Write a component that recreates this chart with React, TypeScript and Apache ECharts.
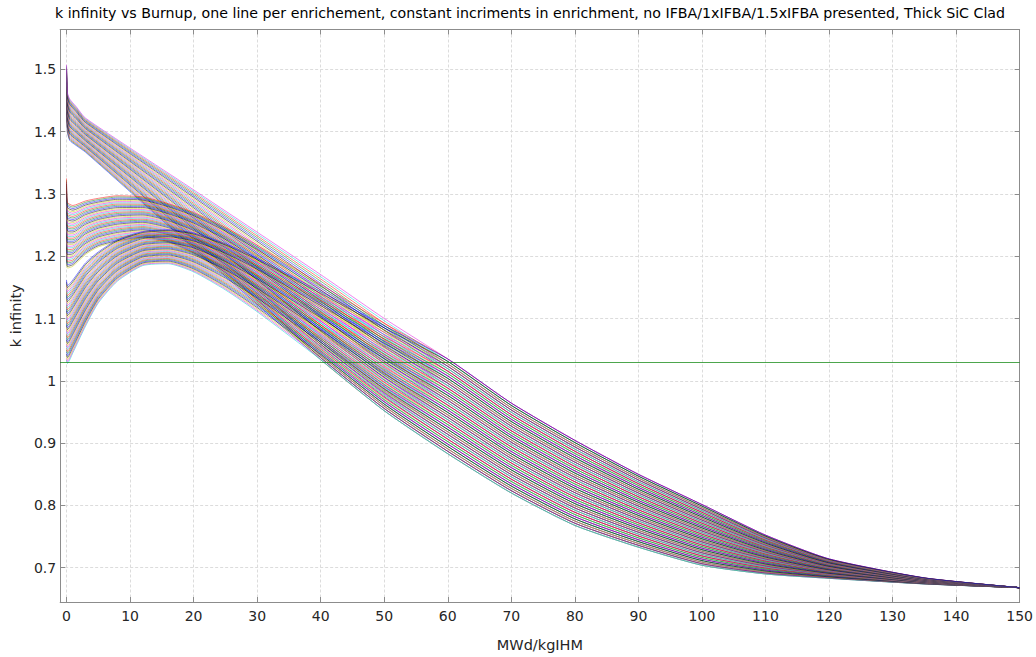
import React, { useEffect, useRef } from "react";
import * as echarts from "echarts";

// ---- data ----
// Rows = burnup points, columns = the 40 enrichment steps (lowest -> highest).
const BURNUP_NO_IFBA = [0, 0.15, 0.5, 1.5, 3, 20, 40, 50];
const K_NO_IFBA = [
  [1.4450,1.4466,1.4482,1.4498,1.4514,1.4530,1.4546,1.4562,1.4578,1.4594,1.4610,1.4626,1.4642,1.4658,1.4674,1.4690,1.4706,1.4722,1.4738,1.4754,1.4770,1.4786,1.4802,1.4818,1.4834,1.4850,1.4866,1.4882,1.4898,1.4914,1.4930,1.4946,1.4962,1.4978,1.4994,1.5010,1.5026,1.5042,1.5058,1.5074],
  [1.4000,1.4016,1.4032,1.4048,1.4064,1.4080,1.4096,1.4112,1.4128,1.4144,1.4160,1.4176,1.4192,1.4208,1.4224,1.4240,1.4256,1.4272,1.4288,1.4304,1.4320,1.4336,1.4352,1.4368,1.4384,1.4400,1.4416,1.4432,1.4448,1.4464,1.4480,1.4496,1.4512,1.4528,1.4544,1.4560,1.4576,1.4592,1.4608,1.4624],
  [1.3860,1.3877,1.3894,1.3911,1.3928,1.3945,1.3962,1.3979,1.3996,1.4013,1.4030,1.4047,1.4064,1.4081,1.4098,1.4115,1.4132,1.4149,1.4166,1.4183,1.4200,1.4217,1.4234,1.4251,1.4268,1.4285,1.4302,1.4319,1.4336,1.4353,1.4370,1.4387,1.4404,1.4421,1.4438,1.4455,1.4472,1.4489,1.4506,1.4523],
  [1.3780,1.3796,1.3812,1.3828,1.3844,1.3860,1.3876,1.3892,1.3908,1.3924,1.3940,1.3956,1.3972,1.3988,1.4004,1.4020,1.4036,1.4052,1.4068,1.4084,1.4100,1.4116,1.4132,1.4148,1.4164,1.4180,1.4196,1.4212,1.4228,1.4244,1.4260,1.4276,1.4292,1.4308,1.4324,1.4340,1.4356,1.4372,1.4388,1.4404],
  [1.3670,1.3684,1.3698,1.3712,1.3726,1.3740,1.3754,1.3768,1.3782,1.3796,1.3810,1.3824,1.3838,1.3852,1.3866,1.3880,1.3894,1.3908,1.3922,1.3936,1.3950,1.3964,1.3978,1.3992,1.4006,1.4020,1.4034,1.4048,1.4062,1.4076,1.4090,1.4104,1.4118,1.4132,1.4146,1.4160,1.4174,1.4188,1.4202,1.4216],
  [1.2130,1.2154,1.2178,1.2202,1.2226,1.2250,1.2274,1.2298,1.2322,1.2346,1.2370,1.2394,1.2418,1.2442,1.2466,1.2490,1.2514,1.2538,1.2562,1.2586,1.2610,1.2634,1.2658,1.2682,1.2706,1.2730,1.2754,1.2778,1.2802,1.2826,1.2850,1.2874,1.2898,1.2922,1.2946,1.2970,1.2994,1.3018,1.3042,1.3066],
  [1.0340,1.0375,1.0410,1.0445,1.0480,1.0515,1.0550,1.0585,1.0620,1.0655,1.0690,1.0725,1.0760,1.0795,1.0830,1.0865,1.0900,1.0935,1.0970,1.1005,1.1040,1.1075,1.1110,1.1145,1.1180,1.1215,1.1250,1.1285,1.1320,1.1355,1.1390,1.1425,1.1460,1.1495,1.1530,1.1565,1.1600,1.1635,1.1670,1.1705],
  [0.9520,0.9558,0.9596,0.9634,0.9672,0.9710,0.9748,0.9786,0.9824,0.9862,0.9900,0.9938,0.9976,1.0014,1.0052,1.0090,1.0128,1.0166,1.0204,1.0242,1.0280,1.0318,1.0356,1.0394,1.0432,1.0470,1.0508,1.0546,1.0584,1.0622,1.0660,1.0698,1.0736,1.0774,1.0812,1.0850,1.0888,1.0926,1.0964,1.1002],
];

const BURNUP_IFBA = [0, 0.15, 1, 3, 5, 8, 12, 16, 20, 25, 30, 40, 50];
const K_1X_IFBA = [
  [1.2040,1.2071,1.2102,1.2133,1.2164,1.2195,1.2226,1.2257,1.2288,1.2319,1.2350,1.2381,1.2412,1.2443,1.2474,1.2505,1.2536,1.2567,1.2598,1.2629,1.2660,1.2691,1.2722,1.2753,1.2784,1.2815,1.2846,1.2877,1.2908,1.2939,1.2970,1.3001,1.3032,1.3063,1.3094,1.3125,1.3156,1.3187,1.3218,1.3249],
  [1.1810,1.1837,1.1864,1.1891,1.1918,1.1945,1.1972,1.1999,1.2026,1.2053,1.2080,1.2107,1.2134,1.2161,1.2188,1.2215,1.2242,1.2269,1.2296,1.2323,1.2350,1.2377,1.2404,1.2431,1.2458,1.2485,1.2512,1.2539,1.2566,1.2593,1.2620,1.2647,1.2674,1.2701,1.2728,1.2755,1.2782,1.2809,1.2836,1.2863],
  [1.1840,1.1865,1.1890,1.1915,1.1940,1.1965,1.1990,1.2015,1.2040,1.2065,1.2090,1.2115,1.2140,1.2165,1.2190,1.2215,1.2240,1.2265,1.2290,1.2315,1.2340,1.2365,1.2390,1.2415,1.2440,1.2465,1.2490,1.2515,1.2540,1.2565,1.2590,1.2615,1.2640,1.2665,1.2690,1.2715,1.2740,1.2765,1.2790,1.2815],
  [1.2030,1.2052,1.2074,1.2096,1.2118,1.2140,1.2162,1.2184,1.2206,1.2228,1.2250,1.2272,1.2294,1.2316,1.2338,1.2360,1.2382,1.2404,1.2426,1.2448,1.2470,1.2492,1.2514,1.2536,1.2558,1.2580,1.2602,1.2624,1.2646,1.2668,1.2690,1.2712,1.2734,1.2756,1.2778,1.2800,1.2822,1.2844,1.2866,1.2888],
  [1.2150,1.2170,1.2190,1.2210,1.2230,1.2250,1.2270,1.2290,1.2310,1.2330,1.2350,1.2370,1.2390,1.2410,1.2430,1.2450,1.2470,1.2490,1.2510,1.2530,1.2550,1.2570,1.2590,1.2610,1.2630,1.2650,1.2670,1.2690,1.2710,1.2730,1.2750,1.2770,1.2790,1.2810,1.2830,1.2850,1.2870,1.2890,1.2910,1.2930],
  [1.2230,1.2249,1.2268,1.2287,1.2306,1.2325,1.2344,1.2363,1.2382,1.2401,1.2420,1.2439,1.2458,1.2477,1.2496,1.2515,1.2534,1.2553,1.2572,1.2591,1.2610,1.2629,1.2648,1.2667,1.2686,1.2705,1.2724,1.2743,1.2762,1.2781,1.2800,1.2819,1.2838,1.2857,1.2876,1.2895,1.2914,1.2933,1.2952,1.2971],
  [1.2290,1.2307,1.2324,1.2341,1.2358,1.2375,1.2392,1.2409,1.2426,1.2443,1.2460,1.2477,1.2494,1.2511,1.2528,1.2545,1.2562,1.2579,1.2596,1.2613,1.2630,1.2647,1.2664,1.2681,1.2698,1.2715,1.2732,1.2749,1.2766,1.2783,1.2800,1.2817,1.2834,1.2851,1.2868,1.2885,1.2902,1.2919,1.2936,1.2953],
  [1.2220,1.2236,1.2252,1.2268,1.2284,1.2300,1.2316,1.2332,1.2348,1.2364,1.2380,1.2396,1.2412,1.2428,1.2444,1.2460,1.2476,1.2492,1.2508,1.2524,1.2540,1.2556,1.2572,1.2588,1.2604,1.2620,1.2636,1.2652,1.2668,1.2684,1.2700,1.2716,1.2732,1.2748,1.2764,1.2780,1.2796,1.2812,1.2828,1.2844],
  [1.2040,1.2057,1.2074,1.2091,1.2108,1.2125,1.2142,1.2159,1.2176,1.2193,1.2210,1.2227,1.2244,1.2261,1.2278,1.2295,1.2312,1.2329,1.2346,1.2363,1.2380,1.2397,1.2414,1.2431,1.2448,1.2465,1.2482,1.2499,1.2516,1.2533,1.2550,1.2567,1.2584,1.2601,1.2618,1.2635,1.2652,1.2669,1.2686,1.2703],
  [1.1720,1.1739,1.1758,1.1777,1.1796,1.1815,1.1834,1.1853,1.1872,1.1891,1.1910,1.1929,1.1948,1.1967,1.1986,1.2005,1.2024,1.2043,1.2062,1.2081,1.2100,1.2119,1.2138,1.2157,1.2176,1.2195,1.2214,1.2233,1.2252,1.2271,1.2290,1.2309,1.2328,1.2347,1.2366,1.2385,1.2404,1.2423,1.2442,1.2461],
  [1.1280,1.1303,1.1326,1.1349,1.1372,1.1395,1.1418,1.1441,1.1464,1.1487,1.1510,1.1533,1.1556,1.1579,1.1602,1.1625,1.1648,1.1671,1.1694,1.1717,1.1740,1.1763,1.1786,1.1809,1.1832,1.1855,1.1878,1.1901,1.1924,1.1947,1.1970,1.1993,1.2016,1.2039,1.2062,1.2085,1.2108,1.2131,1.2154,1.2177],
  [1.0340,1.0371,1.0402,1.0433,1.0464,1.0495,1.0526,1.0557,1.0588,1.0619,1.0650,1.0681,1.0712,1.0743,1.0774,1.0805,1.0836,1.0867,1.0898,1.0929,1.0960,1.0991,1.1022,1.1053,1.1084,1.1115,1.1146,1.1177,1.1208,1.1239,1.1270,1.1301,1.1332,1.1363,1.1394,1.1425,1.1456,1.1487,1.1518,1.1549],
  [0.9520,0.9556,0.9592,0.9628,0.9664,0.9700,0.9736,0.9772,0.9808,0.9844,0.9880,0.9916,0.9952,0.9988,1.0024,1.0060,1.0096,1.0132,1.0168,1.0204,1.0240,1.0276,1.0312,1.0348,1.0384,1.0420,1.0456,1.0492,1.0528,1.0564,1.0600,1.0636,1.0672,1.0708,1.0744,1.0780,1.0816,1.0852,1.0888,1.0924],
];

const K_15X_IFBA = [
  [1.0330,1.0363,1.0396,1.0429,1.0462,1.0495,1.0528,1.0561,1.0594,1.0627,1.0660,1.0693,1.0726,1.0759,1.0792,1.0825,1.0858,1.0891,1.0924,1.0957,1.0990,1.1023,1.1056,1.1089,1.1122,1.1155,1.1188,1.1221,1.1254,1.1287,1.1320,1.1353,1.1386,1.1419,1.1452,1.1485,1.1518,1.1551,1.1584,1.1617],
  [1.0280,1.0312,1.0344,1.0376,1.0408,1.0440,1.0472,1.0504,1.0536,1.0568,1.0600,1.0632,1.0664,1.0696,1.0728,1.0760,1.0792,1.0824,1.0856,1.0888,1.0920,1.0952,1.0984,1.1016,1.1048,1.1080,1.1112,1.1144,1.1176,1.1208,1.1240,1.1272,1.1304,1.1336,1.1368,1.1400,1.1432,1.1464,1.1496,1.1528],
  [1.0450,1.0480,1.0510,1.0540,1.0570,1.0600,1.0630,1.0660,1.0690,1.0720,1.0750,1.0780,1.0810,1.0840,1.0870,1.0900,1.0930,1.0960,1.0990,1.1020,1.1050,1.1080,1.1110,1.1140,1.1170,1.1200,1.1230,1.1260,1.1290,1.1320,1.1350,1.1380,1.1410,1.1440,1.1470,1.1500,1.1530,1.1560,1.1590,1.1620],
  [1.0880,1.0906,1.0932,1.0958,1.0984,1.1010,1.1036,1.1062,1.1088,1.1114,1.1140,1.1166,1.1192,1.1218,1.1244,1.1270,1.1296,1.1322,1.1348,1.1374,1.1400,1.1426,1.1452,1.1478,1.1504,1.1530,1.1556,1.1582,1.1608,1.1634,1.1660,1.1686,1.1712,1.1738,1.1764,1.1790,1.1816,1.1842,1.1868,1.1894],
  [1.1250,1.1271,1.1292,1.1313,1.1334,1.1355,1.1376,1.1397,1.1418,1.1439,1.1460,1.1481,1.1502,1.1523,1.1544,1.1565,1.1586,1.1607,1.1628,1.1649,1.1670,1.1691,1.1712,1.1733,1.1754,1.1775,1.1796,1.1817,1.1838,1.1859,1.1880,1.1901,1.1922,1.1943,1.1964,1.1985,1.2006,1.2027,1.2048,1.2069],
  [1.1600,1.1617,1.1634,1.1651,1.1668,1.1685,1.1702,1.1719,1.1736,1.1753,1.1770,1.1787,1.1804,1.1821,1.1838,1.1855,1.1872,1.1889,1.1906,1.1923,1.1940,1.1957,1.1974,1.1991,1.2008,1.2025,1.2042,1.2059,1.2076,1.2093,1.2110,1.2127,1.2144,1.2161,1.2178,1.2195,1.2212,1.2229,1.2246,1.2263],
  [1.1850,1.1864,1.1878,1.1892,1.1906,1.1920,1.1934,1.1948,1.1962,1.1976,1.1990,1.2004,1.2018,1.2032,1.2046,1.2060,1.2074,1.2088,1.2102,1.2116,1.2130,1.2144,1.2158,1.2172,1.2186,1.2200,1.2214,1.2228,1.2242,1.2256,1.2270,1.2284,1.2298,1.2312,1.2326,1.2340,1.2354,1.2368,1.2382,1.2396],
  [1.1880,1.1894,1.1908,1.1922,1.1936,1.1950,1.1964,1.1978,1.1992,1.2006,1.2020,1.2034,1.2048,1.2062,1.2076,1.2090,1.2104,1.2118,1.2132,1.2146,1.2160,1.2174,1.2188,1.2202,1.2216,1.2230,1.2244,1.2258,1.2272,1.2286,1.2300,1.2314,1.2328,1.2342,1.2356,1.2370,1.2384,1.2398,1.2412,1.2426],
  [1.1750,1.1766,1.1782,1.1798,1.1814,1.1830,1.1846,1.1862,1.1878,1.1894,1.1910,1.1926,1.1942,1.1958,1.1974,1.1990,1.2006,1.2022,1.2038,1.2054,1.2070,1.2086,1.2102,1.2118,1.2134,1.2150,1.2166,1.2182,1.2198,1.2214,1.2230,1.2246,1.2262,1.2278,1.2294,1.2310,1.2326,1.2342,1.2358,1.2374],
  [1.1460,1.1479,1.1498,1.1517,1.1536,1.1555,1.1574,1.1593,1.1612,1.1631,1.1650,1.1669,1.1688,1.1707,1.1726,1.1745,1.1764,1.1783,1.1802,1.1821,1.1840,1.1859,1.1878,1.1897,1.1916,1.1935,1.1954,1.1973,1.1992,1.2011,1.2030,1.2049,1.2068,1.2087,1.2106,1.2125,1.2144,1.2163,1.2182,1.2201],
  [1.1110,1.1132,1.1154,1.1176,1.1198,1.1220,1.1242,1.1264,1.1286,1.1308,1.1330,1.1352,1.1374,1.1396,1.1418,1.1440,1.1462,1.1484,1.1506,1.1528,1.1550,1.1572,1.1594,1.1616,1.1638,1.1660,1.1682,1.1704,1.1726,1.1748,1.1770,1.1792,1.1814,1.1836,1.1858,1.1880,1.1902,1.1924,1.1946,1.1968],
  [1.0340,1.0368,1.0396,1.0424,1.0452,1.0480,1.0508,1.0536,1.0564,1.0592,1.0620,1.0648,1.0676,1.0704,1.0732,1.0760,1.0788,1.0816,1.0844,1.0872,1.0900,1.0928,1.0956,1.0984,1.1012,1.1040,1.1068,1.1096,1.1124,1.1152,1.1180,1.1208,1.1236,1.1264,1.1292,1.1320,1.1348,1.1376,1.1404,1.1432],
  [0.9520,0.9555,0.9590,0.9625,0.9660,0.9695,0.9730,0.9765,0.9800,0.9835,0.9870,0.9905,0.9940,0.9975,1.0010,1.0045,1.0080,1.0115,1.0150,1.0185,1.0220,1.0255,1.0290,1.0325,1.0360,1.0395,1.0430,1.0465,1.0500,1.0535,1.0570,1.0605,1.0640,1.0675,1.0710,1.0745,1.0780,1.0815,1.0850,1.0885],
];

// After the IFBA burns out the three families lie on top of each other.
const BURNUP_TAIL = [60, 70, 80, 90, 100, 110, 120, 135, 150];
const K_TAIL = [
  [0.8830,0.8869,0.8908,0.8947,0.8986,0.9025,0.9064,0.9103,0.9142,0.9181,0.9220,0.9259,0.9298,0.9337,0.9376,0.9415,0.9454,0.9493,0.9532,0.9571,0.9610,0.9649,0.9688,0.9727,0.9766,0.9805,0.9844,0.9883,0.9922,0.9961,1.0000,1.0039,1.0078,1.0117,1.0156,1.0195,1.0234,1.0273,1.0312,1.0351],
  [0.8200,0.8237,0.8274,0.8311,0.8348,0.8385,0.8422,0.8459,0.8496,0.8533,0.8570,0.8607,0.8644,0.8681,0.8718,0.8755,0.8792,0.8829,0.8866,0.8903,0.8940,0.8977,0.9014,0.9051,0.9088,0.9125,0.9162,0.9199,0.9236,0.9273,0.9310,0.9347,0.9384,0.9421,0.9458,0.9495,0.9532,0.9569,0.9606,0.9643],
  [0.7680,0.7715,0.7750,0.7785,0.7820,0.7855,0.7890,0.7925,0.7960,0.7995,0.8030,0.8065,0.8100,0.8135,0.8170,0.8205,0.8240,0.8275,0.8310,0.8345,0.8380,0.8415,0.8450,0.8485,0.8520,0.8555,0.8590,0.8625,0.8660,0.8695,0.8730,0.8765,0.8800,0.8835,0.8870,0.8905,0.8940,0.8975,0.9010,0.9045],
  [0.7330,0.7360,0.7390,0.7420,0.7450,0.7480,0.7510,0.7540,0.7570,0.7600,0.7630,0.7660,0.7690,0.7720,0.7750,0.7780,0.7810,0.7840,0.7870,0.7900,0.7930,0.7960,0.7990,0.8020,0.8050,0.8080,0.8110,0.8140,0.8170,0.8200,0.8230,0.8260,0.8290,0.8320,0.8350,0.8380,0.8410,0.8440,0.8470,0.8500],
  [0.7040,0.7065,0.7090,0.7115,0.7140,0.7165,0.7190,0.7215,0.7240,0.7265,0.7290,0.7315,0.7340,0.7365,0.7390,0.7415,0.7440,0.7465,0.7490,0.7515,0.7540,0.7565,0.7590,0.7615,0.7640,0.7665,0.7690,0.7715,0.7740,0.7765,0.7790,0.7815,0.7840,0.7865,0.7890,0.7915,0.7940,0.7965,0.7990,0.8015],
  [0.6900,0.6916,0.6932,0.6948,0.6964,0.6980,0.6996,0.7012,0.7028,0.7044,0.7060,0.7076,0.7092,0.7108,0.7124,0.7140,0.7156,0.7172,0.7188,0.7204,0.7220,0.7236,0.7252,0.7268,0.7284,0.7300,0.7316,0.7332,0.7348,0.7364,0.7380,0.7396,0.7412,0.7428,0.7444,0.7460,0.7476,0.7492,0.7508,0.7524],
  [0.6830,0.6838,0.6846,0.6854,0.6862,0.6870,0.6878,0.6886,0.6894,0.6902,0.6910,0.6918,0.6926,0.6934,0.6942,0.6950,0.6958,0.6966,0.6974,0.6982,0.6990,0.6998,0.7006,0.7014,0.7022,0.7030,0.7038,0.7046,0.7054,0.7062,0.7070,0.7078,0.7086,0.7094,0.7102,0.7110,0.7118,0.7126,0.7134,0.7142],
  [0.67400,0.67425,0.67450,0.67475,0.67500,0.67525,0.67550,0.67575,0.67600,0.67625,0.67650,0.67675,0.67700,0.67725,0.67750,0.67775,0.67800,0.67825,0.67850,0.67875,0.67900,0.67925,0.67950,0.67975,0.68000,0.68025,0.68050,0.68075,0.68100,0.68125,0.68150,0.68175,0.68200,0.68225,0.68250,0.68275,0.68300,0.68325,0.68350,0.68375],
  [0.668,0.668,0.668,0.668,0.668,0.668,0.668,0.668,0.668,0.668,0.668,0.668,0.668,0.668,0.668,0.668,0.668,0.668,0.668,0.668,0.668,0.668,0.668,0.668,0.668,0.668,0.668,0.668,0.668,0.668,0.668,0.668,0.668,0.668,0.668,0.668,0.668,0.668,0.668,0.668],
];

const CRITICAL_K = 1.035;
const X_TICKS = [0, 10, 20, 30, 40, 50, 60, 70, 80, 90, 100, 110, 120, 130, 140, 150];
const Y_TICKS = [0.7, 0.8, 0.9, 1, 1.1, 1.2, 1.3, 1.4, 1.5];
const X_RANGE = [-1, 150];
const Y_RANGE = [0.645, 1.564];

const TITLE =
  "k infinity vs Burnup, one line per enrichement, constant incriments in enrichment, no IFBA/1xIFBA/1.5xIFBA presented, Thick SiC Clad";
const X_NAME = "MWd/kgIHM";
const Y_NAME = "k infinity";

// MATLAB 'bgrcmyk'-style colour cycle
const COLORS = ["#0000ff", "#008000", "#ff0000", "#00cccc", "#e000e0", "#cccc00", "#000000"];

const FAMILIES = [
  { burnup: [...BURNUP_NO_IFBA, ...BURNUP_TAIL], k: [...K_NO_IFBA, ...K_TAIL] },
  { burnup: [...BURNUP_IFBA, ...BURNUP_TAIL], k: [...K_1X_IFBA, ...K_TAIL] },
  { burnup: [...BURNUP_IFBA, ...BURNUP_TAIL], k: [...K_15X_IFBA, ...K_TAIL] },
];

const FONT = "DejaVu Sans, Verdana, sans-serif";
const AXIS_COLOR = "#8c8c8c";
const TEXT_COLOR = "#262626";

export default function App() {
  const ref = useRef<HTMLDivElement>(null);

  useEffect(() => {
    if (!ref.current) return;
    const chart = echarts.init(ref.current, undefined, { renderer: "svg" });

    const series: any[] = [];
    let idx = 0;
    FAMILIES.forEach((fam) => {
      const nLines = fam.k[0].length;
      for (let c = 0; c < nLines; c++) {
        series.push({
          type: "line",
          data: fam.burnup.map((b, r) => [b, fam.k[r][c]]),
          showSymbol: false,
          symbol: "none",
          smooth: 0.2,
          silent: true,
          lineStyle: { width: 0.5, color: COLORS[idx % COLORS.length] },
          emphasis: { disabled: true },
          z: 3,
        });
        idx++;
      }
    });
    series.push({
      type: "line",
      data: [],
      silent: true,
      z: 4,
      markLine: {
        silent: true,
        symbol: ["none", "none"],
        label: { show: false },
        lineStyle: { color: "#008000", width: 0.7, type: "solid" },
        emphasis: { disabled: true },
        data: [{ yAxis: CRITICAL_K }],
      },
    });

    const tickStyle = { color: AXIS_COLOR, width: 1 };
    chart.setOption({
      animation: false,
      backgroundColor: "#ffffff",
      textStyle: { fontFamily: FONT },
      grid: { left: 53, right: 16, top: 29.5, bottom: 44, containLabel: false },
      graphic: [
        {
          type: "text",
          x: 530,
          y: 13,
          silent: true,
          style: {
            text: TITLE,
            fill: "#000000",
            font: `14.2px ${FONT}`,
            textAlign: "center",
            textVerticalAlign: "middle",
          },
        },
      ],
      xAxis: [
        {
          type: "value",
          min: X_RANGE[0],
          max: X_RANGE[1],
          position: "bottom",
          axisLine: { show: true, onZero: false, lineStyle: { color: AXIS_COLOR } },
          axisTick: { show: true, inside: true, length: 5, customValues: X_TICKS, lineStyle: tickStyle },
          axisLabel: {
            customValues: X_TICKS,
            color: TEXT_COLOR,
            fontSize: 14,
            fontFamily: FONT,
            margin: 7,
          },
          splitLine: { show: true, lineStyle: { color: "#dcdcdc", type: [3, 2], width: 1 } },
          name: X_NAME,
          nameLocation: "middle",
          nameGap: 35,
          nameTextStyle: { color: TEXT_COLOR, fontSize: 14.5, fontFamily: FONT },
        },
        {
          type: "value",
          min: X_RANGE[0],
          max: X_RANGE[1],
          position: "top",
          axisLine: { show: true, onZero: false, lineStyle: { color: AXIS_COLOR } },
          axisTick: { show: true, inside: true, length: 5, customValues: X_TICKS, lineStyle: tickStyle },
          axisLabel: { show: false },
          splitLine: { show: false },
        },
      ],
      yAxis: [
        {
          type: "value",
          min: Y_RANGE[0],
          max: Y_RANGE[1],
          position: "left",
          axisLine: { show: true, onZero: false, lineStyle: { color: AXIS_COLOR } },
          axisTick: { show: true, inside: true, length: 5, customValues: Y_TICKS, lineStyle: tickStyle },
          axisLabel: {
            customValues: Y_TICKS,
            color: TEXT_COLOR,
            fontSize: 14,
            fontFamily: FONT,
            margin: 4,
          },
          splitLine: { show: true, lineStyle: { color: "#dcdcdc", type: [3, 2], width: 1 } },
          name: Y_NAME,
          nameLocation: "middle",
          nameGap: 37,
          nameTextStyle: { color: TEXT_COLOR, fontSize: 14.5, fontFamily: FONT },
        },
        {
          type: "value",
          min: Y_RANGE[0],
          max: Y_RANGE[1],
          position: "right",
          axisLine: { show: true, onZero: false, lineStyle: { color: AXIS_COLOR } },
          axisTick: { show: true, inside: true, length: 5, customValues: Y_TICKS, lineStyle: tickStyle },
          axisLabel: { show: false },
          splitLine: { show: false },
        },
      ],
      series,
    });

    return () => chart.dispose();
  }, []);

  return (
    <div
      ref={ref}
      style={{ position: "fixed", left: 0, top: 0, width: 1036, height: 657, background: "#fff" }}
    />
  );
}
